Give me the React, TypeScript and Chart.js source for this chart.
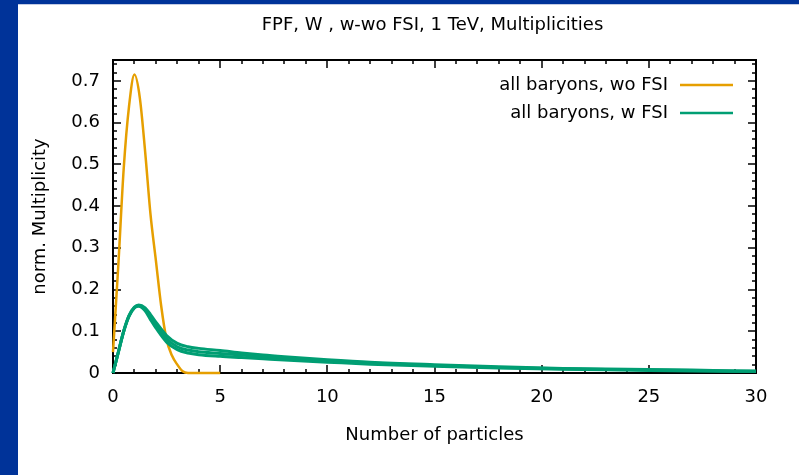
import React, { useEffect, useRef } from 'react';
import { Chart, registerables } from 'chart.js';

Chart.register(...registerables);

const titleText = 'FPF, W , w-wo FSI, 1 TeV, Multiplicities';
const xAxisTitle = 'Number of particles';
const yAxisTitle = 'norm. Multiplicity';

const xTickValues = [0, 5, 10, 15, 20, 25, 30];
const xTickLabels = ['0', '5', '10', '15', '20', '25', '30'];
const yTickValues = [0, 0.1, 0.2, 0.3, 0.4, 0.5, 0.6, 0.7];
const yTickLabels = ['0', '0.1', '0.2', '0.3', '0.4', '0.5', '0.6', '0.7'];

const seriesLabels = ['all baryons, wo FSI', 'all baryons, w FSI'];

// all baryons, wo FSI
const orangeX = [0, 0.25, 0.5, 0.75, 1.0, 1.25, 1.5, 1.75, 2.0, 2.25, 2.5, 2.75, 3.0, 3.25, 3.5, 4, 5];
const orangeY = [0.05, 0.26, 0.49, 0.64, 0.715, 0.66, 0.53, 0.38, 0.27, 0.16, 0.08, 0.042, 0.02, 0.004, 0, 0, 0];

// all baryons, w FSI (several overlapping samples)
const greenX = [0, 0.25, 0.5, 0.75, 1.0, 1.2, 1.5, 1.75, 2.0, 2.5, 3.0, 3.5, 4, 5, 6, 7, 8, 10, 12, 15, 18, 21, 24, 27, 30];
const greenUpperY = [0, 0.05, 0.1, 0.138, 0.158, 0.163, 0.156, 0.14, 0.122, 0.09, 0.071, 0.063, 0.059, 0.054, 0.048, 0.043, 0.039, 0.032, 0.026, 0.02, 0.015, 0.011, 0.009, 0.007, 0.004];
const greenMidY = [0, 0.05, 0.1, 0.137, 0.157, 0.162, 0.152, 0.134, 0.115, 0.082, 0.063, 0.055, 0.051, 0.047, 0.043, 0.039, 0.035, 0.029, 0.024, 0.018, 0.013, 0.01, 0.008, 0.006, 0.004];
const greenLowerY = [0, 0.05, 0.1, 0.136, 0.156, 0.16, 0.149, 0.128, 0.108, 0.074, 0.056, 0.048, 0.044, 0.04, 0.037, 0.034, 0.031, 0.026, 0.021, 0.016, 0.012, 0.009, 0.007, 0.005, 0.004];

const ORANGE = '#e69f00';
const GREEN = '#009e73';
const FONT = '18px "DejaVu Sans"';

const toPts = (xs: number[], ys: number[]) => xs.map((x, i) => ({ x, y: ys[i] }));

const deco = {
  id: 'deco',
  beforeDatasetsDraw(chart: any) {
    const { ctx, chartArea: a, scales } = chart;
    const x = scales.x;
    const y = scales.y;
    ctx.save();
    ctx.strokeStyle = '#000';
    ctx.lineWidth = 1.5;
    ctx.beginPath();
    for (let i = 0; i <= 30; i++) {
      const px = Math.round(x.getPixelForValue(i));
      const len = i % 5 === 0 ? 8 : 4;
      ctx.moveTo(px, a.bottom);
      ctx.lineTo(px, a.bottom - len);
      ctx.moveTo(px, a.top);
      ctx.lineTo(px, a.top + len);
    }
    for (let i = 0; i <= 37; i++) {
      const py = Math.round(y.getPixelForValue(i * 0.02));
      const len = i % 5 === 0 ? 8 : 4;
      ctx.moveTo(a.left, py);
      ctx.lineTo(a.left + len, py);
      ctx.moveTo(a.right, py);
      ctx.lineTo(a.right - len, py);
    }
    ctx.stroke();
    ctx.lineWidth = 2;
    ctx.strokeRect(a.left, a.top, a.right - a.left, a.bottom - a.top);
    ctx.restore();
  },
  afterDraw(chart: any) {
    const { ctx, chartArea: a, scales } = chart;
    const x = scales.x;
    const y = scales.y;
    ctx.save();
    ctx.fillStyle = '#000';
    ctx.font = FONT;
    // y tick labels
    ctx.textAlign = 'right';
    ctx.textBaseline = 'middle';
    yTickValues.forEach((v, i) => ctx.fillText(yTickLabels[i], a.left - 13, y.getPixelForValue(v)));
    // x tick labels
    ctx.textAlign = 'center';
    ctx.textBaseline = 'middle';
    xTickValues.forEach((v, i) => ctx.fillText(xTickLabels[i], x.getPixelForValue(v), a.bottom + 24));
    // title
    const cx = (a.left + a.right) / 2;
    ctx.fillText(titleText, cx - 2, 25);
    // x axis title
    ctx.fillText(xAxisTitle, cx, a.bottom + 62);
    // y axis title
    ctx.save();
    ctx.translate(40, (a.top + a.bottom) / 2);
    ctx.rotate(-Math.PI / 2);
    ctx.fillText(yAxisTitle, 0, 0);
    ctx.restore();
    // legend
    const colors = [ORANGE, GREEN];
    seriesLabels.forEach((lab, i) => {
      const ly = a.top + 25 + i * 28;
      ctx.textAlign = 'right';
      ctx.fillStyle = '#000';
      ctx.fillText(lab, a.right - 88, ly);
      ctx.strokeStyle = colors[i];
      ctx.lineWidth = 2.5;
      ctx.beginPath();
      ctx.moveTo(a.right - 76, ly);
      ctx.lineTo(a.right - 23, ly);
      ctx.stroke();
    });
    ctx.restore();
  },
};

export default function App() {
  const ref = useRef<HTMLCanvasElement | null>(null);
  useEffect(() => {
    if (!ref.current) return;
    const common = {
      fill: false,
      pointRadius: 0,
      borderWidth: 3,
      cubicInterpolationMode: 'monotone' as const,
      clip: 4,
    };
    const chart = new Chart(ref.current, {
      type: 'line',
      data: {
        datasets: [
          { ...common, label: seriesLabels[1], data: toPts(greenX, greenLowerY), borderColor: GREEN },
          { ...common, label: seriesLabels[1], data: toPts(greenX, greenMidY), borderColor: GREEN },
          { ...common, label: seriesLabels[1], data: toPts(greenX, greenUpperY), borderColor: GREEN },
          { ...common, label: seriesLabels[0], data: toPts(orangeX, orangeY), borderColor: ORANGE, borderWidth: 2.5 },
        ],
      },
      options: {
        animation: false,
        responsive: false,
        devicePixelRatio: 1,
        parsing: false as any,
        layout: { padding: { left: 113, top: 60, right: 43, bottom: 102 } },
        plugins: {
          legend: { display: false },
          title: { display: false },
          tooltip: { enabled: false },
        },
        scales: {
          x: { type: 'linear', min: 0, max: 30, display: false },
          y: { type: 'linear', min: 0, max: 0.75, display: false },
        },
      },
      plugins: [deco],
    });
    return () => chart.destroy();
  }, []);

  return (
    <div style={{ position: 'fixed', left: 0, top: 0, width: 799, height: 475, background: '#fff', overflow: 'hidden' }}>
      <div style={{ position: 'absolute', left: 0, top: 0, width: 18, height: 475, background: '#003399' }} />
      <div style={{ position: 'absolute', left: 0, top: 0, width: 799, height: 4, background: '#003399' }} />
      <div style={{ position: 'absolute', left: 18, top: 4, width: 781, height: 1, background: '#c3cbe3' }} />
      <canvas ref={ref} width={799} height={475} style={{ position: 'absolute', left: 0, top: 0, width: 799, height: 475 }} />
    </div>
  );
}
